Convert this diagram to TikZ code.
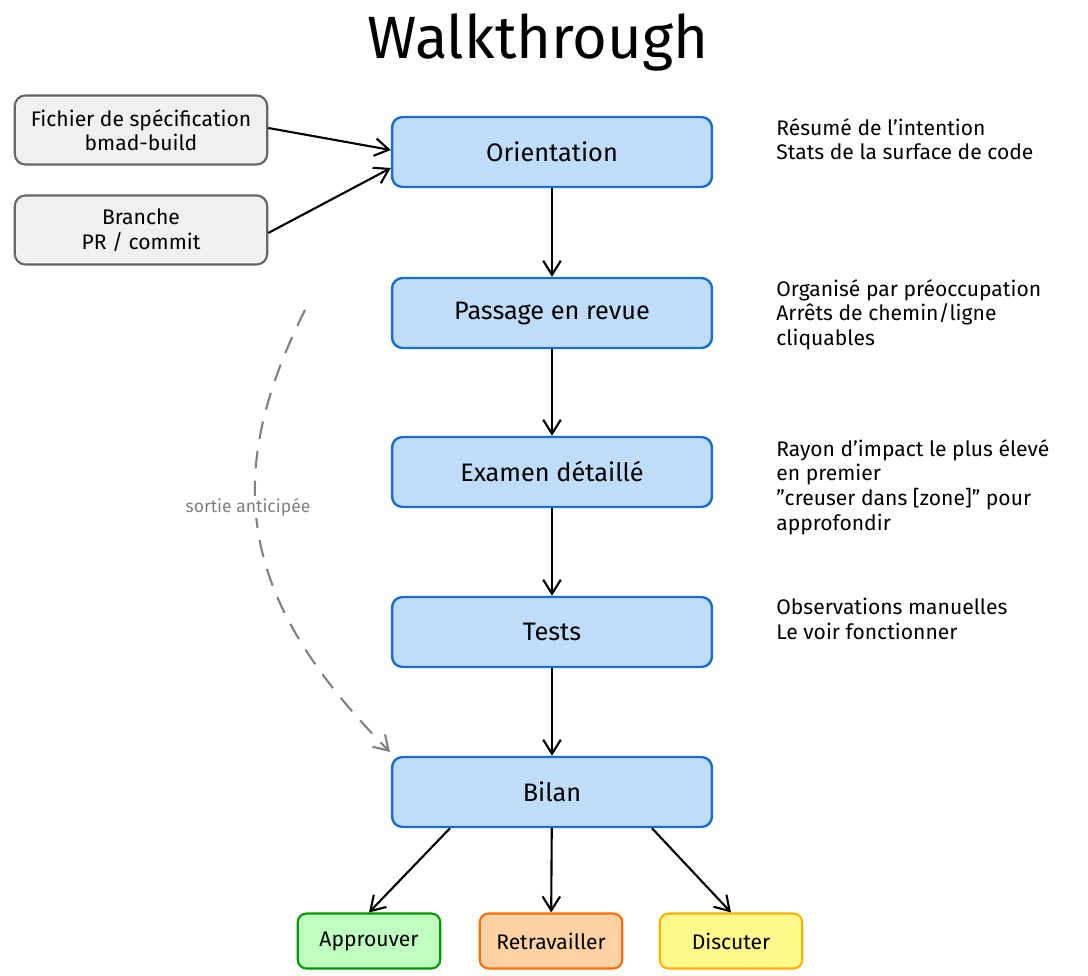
\documentclass[tikz,border=0pt]{standalone}
\usepackage{fontspec}
\setmainfont{Fira Sans}
\usetikzlibrary{positioning,arrows.meta}
\definecolor{stepfill}{HTML}{BFDDFA}
\definecolor{stepdraw}{HTML}{1C6ED1}
\tikzset{
  stage/.style={draw=stepdraw, fill=stepfill, line width=1.4pt, rounded corners=6pt,
    minimum width=6.4cm, minimum height=1.4cm, font=\Large},
  srcbox/.style={draw=gray!80!black, fill=gray!12, line width=1.2pt, rounded corners=6pt,
    minimum width=5.05cm, minimum height=1.38cm, align=center, font=\large},
  verdict/.style={line width=1.2pt, rounded corners=5pt, minimum width=2.85cm,
    minimum height=1.1cm, font=\large},
  notetext/.style={anchor=north west, align=left, font=\large, inner sep=0pt},
  flow/.style={-{Straight Barb[length=8pt,width=10pt]}, line width=1.2pt}
}
\begin{document}
\begin{tikzpicture}[x=0.02cm, y=-0.02cm]
    \useasboundingbox (0,0) rectangle (1088,976);
    \node[font=\fontsize{34}{40}\selectfont] (title) at (538,42) {Walkthrough};

    % main steps
    \node[stage] (orient) at (552,152) {Orientation};
    \node[stage] (revue) at (552,313) {Passage en revue};
    \node[stage] (examen) at (552,472) {Examen détaillé};
    \node[stage] (tests) at (552,632) {Tests};
    \node[stage] (bilan) at (552,792) {Bilan};

    % inputs
    \node[srcbox] (spec) at (141,130) {Fichier de spécification\\bmad-build};
    \node[srcbox] (branch) at (141,230) {Branche\\PR / commit};

    % outcomes
    \node[verdict, draw=green!60!black, fill=green!25] (appr) at (369,941) {Approuver};
    \node[verdict, draw=orange!85!red, fill=orange!35] (retr) at (551,941) {Retravailler};
    \node[verdict, draw=orange!60!yellow, fill=yellow!45] (disc) at (731,941) {Discuter};

    % notes
    \node[notetext] (n1) at (776,118) {Résumé de l'intention\\Stats de la surface de code};
    \node[notetext] (n2) at (776,279) {Organisé par préoccupation\\Arrêts de chemin/ligne\\cliquables};
    \node[notetext] (n3) at (776,439) {Rayon d'impact le plus élevé\\en premier\\"creuser dans [zone]" pour\\approfondir};
    \node[notetext] (n4) at (776,598) {Observations manuelles\\Le voir fonctionner};

    % connectors
    \draw[flow] (spec.east |- 0,128) -- (orient.west |- 0,150);
    \draw[flow] (branch.east |- 0,233) -- (orient.west |- 0,168);
    \draw[flow] (orient) -- (revue);
    \draw[flow] (revue) -- (examen);
    \draw[flow] (examen) -- (tests);
    \draw[flow] (tests) -- (bilan);
    \draw[flow] (bilan.south -| 450,0) -- (appr.north);
    \draw[flow] (bilan) -- (retr);
    \draw[flow] (bilan.south -| 652,0) -- (disc.north);

    \coordinate (early) at (305,310);
    \draw[flow, gray, dashed, dash pattern=on 10pt off 7pt] (early)
        .. controls (220,480) and (240,600) .. (390,752);
    \node[gray, font=\normalsize, fill=white, inner sep=1pt] (earlylbl) at (248,507) {sortie anticipée};
\end{tikzpicture}
\end{document}
